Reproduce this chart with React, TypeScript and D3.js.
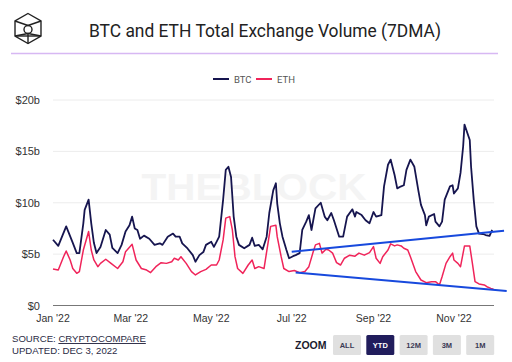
import React from "react";
import * as d3 from "d3";

const btcDates = [
  "2022-01-01","2022-01-05","2022-01-11","2022-01-16","2022-01-19","2022-01-21","2022-01-24","2022-01-25","2022-01-28","2022-01-30",
  "2022-02-01","2022-02-03","2022-02-06","2022-02-10","2022-02-13","2022-02-15","2022-02-19","2022-02-22","2022-02-25","2022-02-28",
  "2022-03-02","2022-03-04","2022-03-06","2022-03-08","2022-03-11","2022-03-15","2022-03-19","2022-03-23","2022-03-25","2022-03-29",
  "2022-04-02","2022-04-04","2022-04-07","2022-04-09","2022-04-13","2022-04-17","2022-04-19","2022-04-22","2022-04-25","2022-04-27",
  "2022-05-01","2022-05-03","2022-05-05","2022-05-07","2022-05-10","2022-05-12","2022-05-14","2022-05-16","2022-05-18","2022-05-20",
  "2022-05-22","2022-05-26","2022-05-30","2022-06-01","2022-06-03","2022-06-06","2022-06-09","2022-06-12","2022-06-14","2022-06-17",
  "2022-06-19","2022-06-20","2022-06-22","2022-06-24","2022-06-27","2022-06-29","2022-07-02","2022-07-04","2022-07-07","2022-07-09",
  "2022-07-12","2022-07-14","2022-07-16","2022-07-19","2022-07-23","2022-07-26","2022-07-28","2022-07-31","2022-08-02","2022-08-06",
  "2022-08-09","2022-08-12","2022-08-16","2022-08-18","2022-08-19","2022-08-23","2022-08-26","2022-08-29","2022-09-01","2022-09-03",
  "2022-09-07","2022-09-09","2022-09-12","2022-09-14","2022-09-17","2022-09-19","2022-09-22","2022-09-24","2022-09-26","2022-09-29",
  "2022-10-02","2022-10-05","2022-10-07","2022-10-10","2022-10-11","2022-10-13","2022-10-17","2022-10-18","2022-10-21","2022-10-23",
  "2022-10-25","2022-10-29","2022-10-31","2022-11-01","2022-11-04","2022-11-06","2022-11-08","2022-11-09","2022-11-13","2022-11-14",
  "2022-11-16","2022-11-18","2022-11-20","2022-11-23","2022-11-25","2022-11-28","2022-11-30"
];
const btcValues = [
  6.4,5.8,7.7,6.1,5.1,5.1,8.0,9.3,10.3,8.0,
  6.1,5.1,5.7,7.35,6.9,5.6,5.1,5.9,7.2,7.8,
  8.65,7.5,7.35,6.5,6.8,6.5,5.9,6.05,5.9,6.7,
  7.0,6.7,6.7,6.05,5.55,4.9,4.26,4.9,5.2,5.9,
  6.2,5.7,6.2,6.7,10.3,13.2,13.5,12.5,8.65,6.7,
  5.9,5.57,5.9,6.6,5.8,5.9,5.47,6.7,9.0,11.2,
  11.9,9.95,8.0,6.7,5.4,4.6,4.8,4.9,5.1,7.35,
  8.16,8.8,7.35,9.46,10.0,8.65,8.3,9.0,8.3,6.7,
  6.7,8.65,9.36,8.65,9.1,8.8,8.3,8.0,9.1,8.65,
  8.8,11.6,13.7,14.2,12.7,11.4,11.6,11.7,13.2,14.2,
  13.5,11.2,9.8,8.8,7.8,8.65,8.9,8.16,7.7,8.16,
  10.3,11.6,11.7,10.9,11.4,12.9,15.5,17.6,16.1,13.5,
  10.3,7.7,7.0,6.96,6.86,6.77,7.35
];

const ethDates = [
  "2022-01-01","2022-01-05","2022-01-09","2022-01-11","2022-01-14","2022-01-16","2022-01-19","2022-01-21","2022-01-24","2022-01-28",
  "2022-01-30","2022-02-01","2022-02-04","2022-02-06","2022-02-10","2022-02-14","2022-02-19","2022-02-23","2022-02-25","2022-03-02",
  "2022-03-05","2022-03-09","2022-03-13","2022-03-16","2022-03-20","2022-03-24","2022-03-28","2022-04-01","2022-04-03","2022-04-06",
  "2022-04-08","2022-04-12","2022-04-16","2022-04-19","2022-04-23","2022-04-27","2022-05-01","2022-05-05","2022-05-07","2022-05-10",
  "2022-05-12","2022-05-15","2022-05-17","2022-05-19","2022-05-21","2022-05-25","2022-05-29","2022-06-01","2022-06-03","2022-06-06",
  "2022-06-10","2022-06-13","2022-06-15","2022-06-19","2022-06-20","2022-06-23","2022-06-25","2022-06-29","2022-07-03","2022-07-07",
  "2022-07-11","2022-07-14","2022-07-17","2022-07-19","2022-07-22","2022-07-24","2022-07-27","2022-07-29","2022-08-01","2022-08-04",
  "2022-08-07","2022-08-10","2022-08-14","2022-08-18","2022-08-21","2022-08-25","2022-08-29","2022-09-01","2022-09-03","2022-09-06",
  "2022-09-08","2022-09-12","2022-09-14","2022-09-17","2022-09-19","2022-09-22","2022-09-24","2022-09-27","2022-09-29","2022-10-03",
  "2022-10-07","2022-10-11","2022-10-15","2022-10-18","2022-10-21","2022-10-23","2022-10-26","2022-10-29","2022-10-31","2022-11-01",
  "2022-11-04","2022-11-06","2022-11-09","2022-11-13","2022-11-15","2022-11-17","2022-11-20","2022-11-24","2022-11-26","2022-11-29",
  "2022-12-01"
];
const ethValues = [
  3.55,3.45,4.75,5.3,4.43,3.6,3.13,3.3,5.4,7.2,
  5.4,4.43,3.78,4.1,4.5,4.1,3.6,4.26,5.24,5.95,
  4.43,3.6,3.45,3.2,3.78,4.17,4.1,4.26,4.6,4.43,
  4.75,4.1,3.3,2.97,3.3,3.52,3.94,3.94,4.43,6.38,
  8.5,8.65,7.35,4.75,3.6,3.13,3.94,4.43,3.6,3.78,
  3.6,6.05,7.7,7.8,6.7,4.75,3.6,3.3,3.4,3.2,
  3.3,3.78,5.1,5.9,6.05,5.1,5.47,5.4,5.1,4.17,
  3.94,4.6,4.9,4.8,5.1,4.9,5.14,5.73,4.6,4.1,
  4.75,5.4,6.0,5.8,5.9,5.8,5.57,5.4,4.75,3.3,
  2.48,2.22,2.32,2.32,2.0,2.8,4.1,4.75,5.1,4.43,
  4.1,3.78,5.8,5.8,4.1,2.32,2.1,2.0,1.83,1.67,
  1.58
];

const trendUpperDates = ["2022-07-01", "2022-12-09"];
const trendUpperValues = [5.24, 7.28];
const trendLowerDates = ["2022-07-04", "2022-12-11"];
const trendLowerValues = [3.2, 1.41];

const yTicks = [0, 5, 10, 15, 20];
const yTickLabels = ["$0", "$5b", "$10b", "$15b", "$20b"];
const xTickDates = ["2022-01-01", "2022-03-01", "2022-05-01", "2022-07-01", "2022-09-01", "2022-11-01"];
const xTickLabels = ["Jan '22", "Mar '22", "May '22", "Jul '22", "Sep '22", "Nov '22"];
const seriesNames = ["BTC", "ETH"];
const zoomButtons = ["ALL", "YTD", "12M", "3M", "1M"];

const parse = d3.timeParse("%Y-%m-%d");

export default function App() {
  const W = 512, H = 362;
  const left = 53, right = 493.5, top = 100, bottom = 305.5;
  const x = d3.scaleTime()
    .domain([parse("2022-01-01")!, parse("2022-12-01")!])
    .range([left, right]);
  const y = d3.scaleLinear().domain([0, 20]).range([bottom, top]);

  const line = d3.line<[Date, number]>()
    .x(d => x(d[0]))
    .y(d => y(d[1]))
    .curve(d3.curveLinear);

  const btc: [Date, number][] = btcDates.map((d, i) => [parse(d)!, btcValues[i]]);
  const eth: [Date, number][] = ethDates.map((d, i) => [parse(d)!, ethValues[i]]);
  const tu: [Date, number][] = trendUpperDates.map((d, i) => [parse(d)!, trendUpperValues[i]]);
  const tl: [Date, number][] = trendLowerDates.map((d, i) => [parse(d)!, trendLowerValues[i]]);
  const straight = d3.line<[Date, number]>().x(d => x(d[0])).y(d => y(d[1]));

  const colors = ["#16154f", "#f0245a"];
  const sans = "Roboto, 'Liberation Sans', Arial, sans-serif";
  const arial = "'Liberation Sans', Arial, sans-serif";

  const cx = 28, cy = 28.5, r = 15;
  const hex = d3.range(6).map(i => {
    const a = Math.PI / 180 * (60 * i - 90);
    return [cx + r * Math.cos(a), cy + r * Math.sin(a)];
  });

  return (
    <svg width={W} height={H} style={{ position: "fixed", left: 0, top: 0, background: "#fff" }}>
      <rect x={0} y={0} width={W} height={H} fill="#fff" />
      <g stroke="#222" strokeWidth={1.4} fill="none">
        <polygon points={hex.map(p => p.join(",")).join(" ")} />
        <line x1={hex[5][0]} y1={hex[5][1]} x2={cx} y2={cy - 3} />
        <line x1={hex[1][0]} y1={hex[1][1]} x2={cx} y2={cy - 3} />
        <line x1={hex[4][0]} y1={hex[4][1]} x2={hex[2][0]} y2={hex[2][1]} />
        <line x1={hex[4][0]} y1={hex[4][1]} x2={cx} y2={cy + 5} />
        <line x1={hex[2][0]} y1={hex[2][1]} x2={cx} y2={cy + 5} />
        <line x1={cx} y1={cy + 5} x2={hex[3][0]} y2={hex[3][1]} />
        <circle cx={cx} cy={cy + 1} r={4} />
      </g>
      <text x={265} y={37} textAnchor="middle" fontFamily={sans} fontSize={18.5} fill="#222"
        textLength={352} lengthAdjust="spacingAndGlyphs">
        BTC and ETH Total Exchange Volume (7DMA)
      </text>
      <line x1={11} x2={498} y1={53.5} y2={53.5} stroke="#d7b8f3" strokeWidth={1.5} />

      {seriesNames.map((s, i) => (
        <g key={s} transform={`translate(${213 + i * 43},0)`}>
          <line x1={0} x2={16} y1={79} y2={79} stroke={colors[i]} strokeWidth={2} />
          <text x={21} y={82.5} fontFamily={sans} fontSize={9.5} fill="#555">{s}</text>
        </g>
      ))}

      <text x={254} y={200} textAnchor="middle" fontFamily={arial} fontWeight="bold" fontSize={37.5}
        fill="#f4f4f4" textLength={225} lengthAdjust="spacingAndGlyphs">THEBLOCK</text>

      {yTicks.map((t, i) => (
        <g key={t}>
          {t > 0 && <line x1={left} x2={494} y1={y(t)} y2={y(t)} stroke="#ececec" strokeWidth={1} />}
          <text x={40} y={y(t) + 4} textAnchor="end" fontFamily={arial} fontSize={11} fill="#333">{yTickLabels[i]}</text>
        </g>
      ))}
      <line x1={left} x2={494} y1={bottom} y2={bottom} stroke="#777" strokeWidth={1.2} />
      {xTickDates.map((d, i) => (
        <text key={d} x={x(parse(d)!)} y={322} textAnchor="middle" fontFamily={arial} fontSize={10.5} fill="#333">
          {xTickLabels[i]}
        </text>
      ))}

      <path d={line(eth)!} fill="none" stroke={colors[1]} strokeWidth={1.5} strokeLinejoin="round" />
      <path d={line(btc)!} fill="none" stroke={colors[0]} strokeWidth={1.8} strokeLinejoin="round" />

      <path d={straight(tu)!} fill="none" stroke="#1749dd" strokeWidth={2} />
      <path d={straight(tl)!} fill="none" stroke="#1749dd" strokeWidth={2} />

      <text x={12} y={342} fontFamily={arial} fontSize={9.6} fill="#2b2b45">
        SOURCE: <tspan textDecoration="underline">CRYPTOCOMPARE</tspan>
      </text>
      <text x={12} y={353.5} fontFamily={arial} fontSize={9.6} fill="#2b2b45">UPDATED: DEC 3, 2022</text>
      <text x={295} y={349} fontFamily={arial} fontWeight="bold" fontSize={10.5} fill="#1b1b2f">ZOOM</text>
      {zoomButtons.map((b, i) => {
        const bx = 333 + i * 33.3;
        const active = b === "YTD";
        return (
          <g key={b}>
            <rect x={bx} y={335} width={28} height={20} rx={1.5} fill={active ? "#211d5c" : "#e0e0e0"} />
            <text x={bx + 14} y={348} textAnchor="middle" fontFamily={arial} fontWeight="bold" fontSize={7.5}
              fill={active ? "#fff" : "#3a3a55"}>{b}</text>
          </g>
        );
      })}
    </svg>
  );
}
